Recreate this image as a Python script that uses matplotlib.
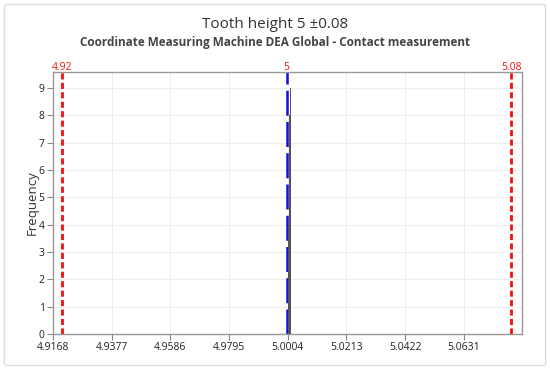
import matplotlib
matplotlib.use("Agg")
import matplotlib.pyplot as plt
from matplotlib.patches import FancyBboxPatch

plt.rcParams['font.family'] = ['Open Sans', 'DejaVu Sans']

# data
bin_centers = [5.0007, 5.0010, 5.00128, 5.00153]
frequencies = [4, 8, 9, 4]
bin_width = 0.00028
x_tick_labels = ["4.9168", "4.9377", "4.9586", "4.9795", "5.0004", "5.0213", "5.0422", "5.0631"]
y_ticks = [0, 1, 2, 3, 4, 5, 6, 7, 8, 9]
lsl, target, usl = 4.92, 5.0, 5.08
title = "Tooth height 5 \u00b10.08"
subtitle = "Coordinate Measuring Machine DEA Global - Contact measurement"

fig = plt.figure(figsize=(5.5, 3.7), dpi=100)
fig.patch.set_facecolor('white')
border = FancyBboxPatch((0.008, 0.012), 0.984, 0.976, boxstyle="round,pad=0,rounding_size=0.006",
                        transform=fig.transFigure, facecolor='white', edgecolor='#dcdcdc',
                        linewidth=1.0, zorder=-5)
fig.patches.append(border)

ax = fig.add_axes([0.0964, 0.0973, 0.8527, 0.7077])
ax.set_zorder(1)
x_ticks = [float(t) for t in x_tick_labels]

ax.bar(bin_centers, frequencies, width=bin_width, color='#555555', edgecolor='none',
       linewidth=0, zorder=3)

ax.axvline(lsl, color='#ee1111', linestyle=(0, (2.2, 1.2)), linewidth=2.0, zorder=4)
ax.axvline(usl, color='#ee1111', linestyle=(0, (2.2, 1.2)), linewidth=2.0, zorder=4)
ax.axvline(target, color='#1111dd', linestyle=(0, (10, 2.5)), linewidth=1.8, zorder=2)

ax.set_xlim(4.9168, 5.0838)
ax.set_ylim(0, 9.58)
ax.set_xticks(x_ticks)
ax.set_xticklabels(x_tick_labels)
ax.set_yticks(y_ticks)
ax.tick_params(axis='both', labelsize=7.5, labelcolor='#222222', color='#888888', length=4, width=0.8, pad=2)
ax.grid(True, color='#eeeeee', linewidth=0.8, zorder=0)
ax.set_axisbelow(True)
for s in ax.spines.values():
    s.set_color('#999999')
    s.set_linewidth(1.0)

ax.set_ylabel("Frequency", fontsize=9.5, color='#333333', labelpad=0)

for v, t in [(lsl, "4.92"), (target, "5"), (usl, "5.08")]:
    ax.text(v, 1.008, t, transform=ax.get_xaxis_transform(), ha='center', va='baseline',
            fontsize=7.5, color='#ee1111')

fig.text(0.5, 0.933, title, ha='center', va='center', fontsize=11, color='#333333')
fig.text(0.5, 0.884, subtitle, ha='center', va='center', fontsize=8.5, fontweight='bold', color='#444444')

fig.savefig("out.png", dpi=100)
